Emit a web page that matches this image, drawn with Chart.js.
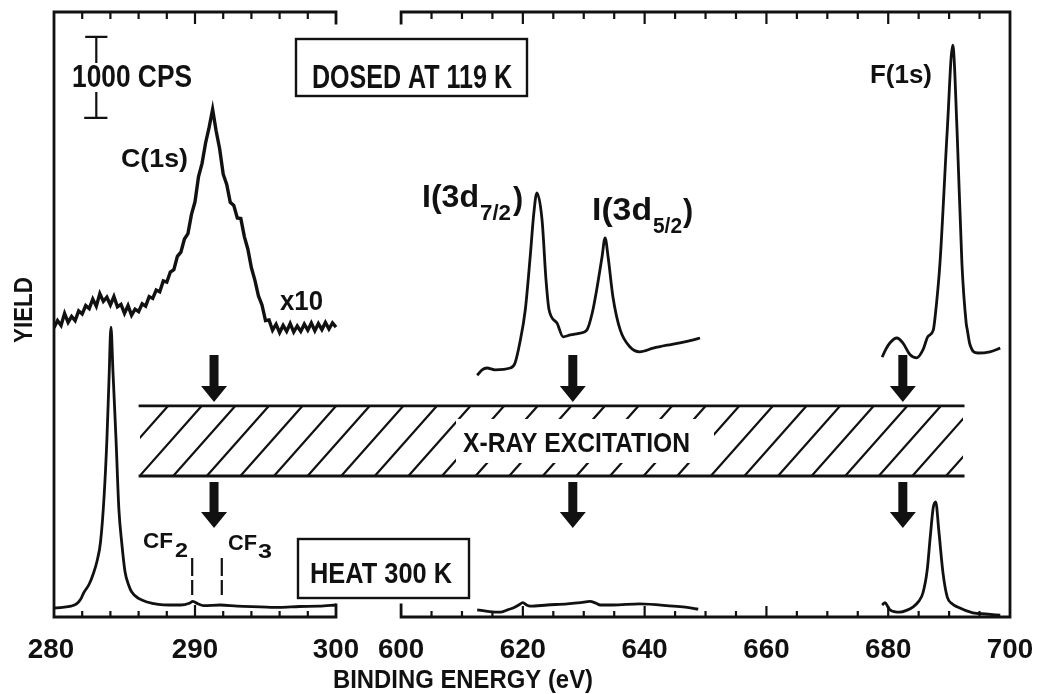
<!DOCTYPE html>
<html><head><meta charset="utf-8">
<script src="https://cdn.jsdelivr.net/npm/chart.js@4.4.1/dist/chart.umd.min.js"></script>
<style>html,body{margin:0;padding:0;background:#fff;overflow:hidden}canvas{display:block}</style>
</head><body>
<canvas id="c" width="1038" height="694" style="width:1038px;height:694px"></canvas>
<script>
// ---------- DATA (binding energy in eV, yield in arbitrary units) ----------
const cDosedEnergy = [280.00,280.25,280.50,280.75,281.00,281.25,281.50,281.75,282.00,282.25,282.50,282.75,283.00,283.25,283.50,283.75,284.00,284.25,284.50,284.75,285.00,285.25,285.50,285.75,286.00,286.25,286.50,286.75,287.00,287.25,287.50,287.75,288.00,288.25,288.50,288.75,289.00,289.25,289.50,289.75,290.00,290.25,290.50,290.75,291.00,291.25,291.50,291.75,292.00,292.25,292.50,292.75,293.00,293.25,293.50,293.75,294.00,294.25,294.50,294.75,295.00,295.25,295.50,295.75,296.00,296.25,296.50,296.75,297.00,297.25,297.50,297.75,298.00,298.25,298.50,298.75,299.00,299.25,299.50,299.75,300.00];
const cDosed = [48.2,49.4,48.6,50.6,49.1,50.1,49.4,51.0,50.5,51.9,51.4,53.0,51.8,53.9,52.6,53.3,52.0,53.4,51.7,52.1,50.6,51.9,50.3,51.3,50.9,52.2,51.8,53.4,53.1,54.5,54.2,56.0,55.8,57.5,57.9,60.1,60.8,63.0,63.9,67.1,69.2,73.4,75.6,79.0,81.6,84.6,81.0,78.0,73.8,72.1,69.1,68.6,66.5,66.4,63.4,61.3,58.2,56.1,53.5,52.0,49.4,49.5,47.8,48.8,47.4,48.6,47.6,48.9,47.5,48.5,47.6,48.8,47.8,49.0,47.7,48.9,47.9,49.1,48.0,49.0,48.3];

const cHeatEnergy = [280.0,280.6,281.2,281.6,281.9,282.1,282.5,282.8,283.05,283.3,283.55,283.75,283.9,284.04,284.18,284.4,284.6,284.82,285.04,285.3,285.5,286.0,286.6,287.4,288.2,289.0,289.6,289.85,290.2,290.6,291.8,293.0,294.6,296.0,297.4,298.8,300.0];
const cHeat = [1.5,1.6,1.8,2.2,3.0,4.0,5.5,7.3,9.3,12.5,20,29.5,39.5,48.3,41,29.5,18,12,7.5,5.3,4.2,3.1,2.5,2.1,2.0,2.0,2.3,2.6,2.2,1.9,2.0,1.8,1.7,1.6,1.75,1.8,2.0];

const iDosedEnergy = [612.5,613.3,614.1,615.4,617.9,618.7,619.5,620.4,621.2,621.8,622.3,623.15,623.8,624.3,625.6,626.6,627.8,629.4,630.5,631.4,632.2,633.0,633.5,634.0,634.8,636.0,637.6,639.2,641.4,643.7,645.8,648.0,649.1];
const iDosed = [40.3,41.2,41.5,41.2,41.5,42.3,45.7,51.2,60,67.3,70.7,66.2,56.2,51.2,49,46.7,47,47.3,47.8,50.7,55,60,63.2,60,53.3,47.8,45,44.2,44.8,45.3,45.7,46.2,46.5];

const iHeatEnergy = [612.5,614.5,616.3,617.5,618.4,619.3,620.0,620.6,621.2,624.0,627.3,629.5,631.0,632.0,632.7,634.8,639.2,644.7,647.0,648.8];
const iHeat = [1.2,0.9,0.8,1.2,1.5,2.0,2.4,2.0,1.8,2.0,2.2,2.4,2.6,2.3,2.0,2.0,2.2,1.8,1.6,1.3];

const fDosedEnergy = [679.0,679.6,680.3,681.4,682.4,683.6,684.7,685.7,686.5,687.4,687.7,688.5,689.7,690.6,691.3,692.1,692.8,693.0,693.4,694.7,696.7,698.4];
const fDosed = [43.3,44.6,45.7,46.5,45.7,43.7,43.2,44.5,46.7,47.8,50,59,81.2,95.3,81.2,59,49,47.8,45.5,44,44.2,44.8];

const fHeatEnergy = [679.0,679.5,680.0,680.3,681.9,683.0,684.1,685.0,685.7,686.4,686.9,687.4,687.8,688.3,689.0,689.7,690.5,691.3,693.9,696.0,698.4];
const fHeat = [2.0,2.4,1.6,1.2,0.8,1.1,1.7,2.6,4.0,7.8,13.3,18.3,19.2,14.5,7.3,3.3,2.2,1.7,0.7,0.5,0.3];

const leftTickLabels = [280,290,300];
const leftMinorTicks = [282,284,286,288,292,294,296,298];
const rightTickLabels = [600,620,640,660,680,700];
const rightMinorTicks = [605,610,615,625,630,635,645,650,655,665,670,675,685,690,695];

// annotation anchors (data units)
const arrowsLeft = [291.35];
const arrowsRight = [628.2, 682.4];

// ---------- helpers ----------
const INK = '#111';
function txt(ctx, s, x, yBase, capH, width, align, rot) {
  const size = capH / 0.72;
  ctx.save();
  ctx.font = 'bold ' + size + 'px "Liberation Sans", Arial, sans-serif';
  const nat = ctx.measureText(s).width;
  const sx = width ? width / nat : 1;
  ctx.translate(x, yBase);
  if (rot) ctx.rotate(rot);
  ctx.scale(sx, 1);
  ctx.textBaseline = 'alphabetic';
  ctx.textAlign = align || 'left';
  ctx.fillStyle = INK;
  ctx.fillText(s, 0, 0);
  ctx.restore();
}
function arrow(ctx, x, yTop, yTip) {
  const hw = 4.5, hh = 13, hl = 16;
  ctx.beginPath();
  ctx.moveTo(x - hw, yTop); ctx.lineTo(x + hw, yTop);
  ctx.lineTo(x + hw, yTip - hl); ctx.lineTo(x + hh, yTip - hl);
  ctx.lineTo(x, yTip); ctx.lineTo(x - hh, yTip - hl);
  ctx.lineTo(x - hw, yTip - hl); ctx.closePath(); ctx.fill();
}

const decor = {
  id: 'decor',
  afterDatasetsDraw(chart) {
    const ctx = chart.ctx;
    const L = chart.scales.xL, R = chart.scales.xR, Y = chart.scales.y;
    const top = Y.top, bot = Y.bottom;
    const xa = L.getPixelForValue(280), xb = L.getPixelForValue(300);
    const xc = R.getPixelForValue(600), xd = R.getPixelForValue(700);
    ctx.save();
    ctx.strokeStyle = INK; ctx.fillStyle = INK; ctx.lineCap = 'square';
    // frames
    ctx.lineWidth = 2.8;
    ctx.beginPath();
    ctx.moveTo(xb, top + 11); ctx.lineTo(xb, top); ctx.lineTo(xa, top); ctx.lineTo(xa, bot);
    ctx.lineTo(xb, bot); ctx.lineTo(xb, bot - 12);
    ctx.moveTo(xc, top + 11); ctx.lineTo(xc, top); ctx.lineTo(xd, top); ctx.lineTo(xd, bot);
    ctx.lineTo(xc, bot); ctx.lineTo(xc, bot - 12);
    ctx.stroke();
    // ticks
    ctx.lineWidth = 2.2;
    ctx.beginPath();
    leftMinorTicks.forEach(v => { const p = L.getPixelForValue(v); ctx.moveTo(p, bot); ctx.lineTo(p, bot - 5); ctx.moveTo(p, top); ctx.lineTo(p, top + 6); });
    rightMinorTicks.forEach(v => { const p = R.getPixelForValue(v); ctx.moveTo(p, bot); ctx.lineTo(p, bot - 5); ctx.moveTo(p, top); ctx.lineTo(p, top + 6); });
    [290].forEach(v => { const p = L.getPixelForValue(v); ctx.moveTo(p, bot); ctx.lineTo(p, bot - 11); ctx.moveTo(p, top); ctx.lineTo(p, top + 11); });
    [620,640,660,680].forEach(v => { const p = R.getPixelForValue(v); ctx.moveTo(p, bot); ctx.lineTo(p, bot - 10); ctx.moveTo(p, top); ctx.lineTo(p, top + 11); });
    ctx.stroke();
    // tick labels
    leftTickLabels.forEach(v => txt(ctx, String(v), L.getPixelForValue(v) - (v === 280 ? 3 : 0), 658, 20, null, 'center'));
    rightTickLabels.forEach(v => txt(ctx, String(v), R.getPixelForValue(v), 658, 20, null, 'center'));
    txt(ctx, 'BINDING ENERGY (eV)', 333, 688, 19, 260);
    txt(ctx, 'YIELD', 32, 343, 19, 66, 'left', -Math.PI / 2);

    // scale bar (1000 CPS)
    const sbx = L.getPixelForValue(283.0);
    ctx.lineWidth = 2.2;
    ctx.beginPath();
    const yA = Y.getPixelForValue(96.67), yB = Y.getPixelForValue(92.5), yC = Y.getPixelForValue(87.33), yD = Y.getPixelForValue(83.17);
    ctx.moveTo(sbx - 10, yA); ctx.lineTo(sbx + 10, yA);
    ctx.moveTo(sbx, yA); ctx.lineTo(sbx, yB);
    ctx.moveTo(sbx, yC); ctx.lineTo(sbx, yD);
    ctx.moveTo(sbx - 11, yD); ctx.lineTo(sbx + 10, yD);
    ctx.stroke();
    txt(ctx, '1000 CPS', 72, 87, 22, 120);

    // boxes
    ctx.lineWidth = 2.4;
    ctx.strokeRect(296, 39, 231, 57);
    txt(ctx, 'DOSED AT 119 K', 312, 88, 24, 200);
    ctx.strokeRect(298, 539, 171, 59);
    txt(ctx, 'HEAT 300 K', 310, 583, 21, 142);

    // peak labels
    txt(ctx, 'C(1s)', 121, 167, 18, 67);
    txt(ctx, 'x10', 280, 310, 20, 43);
    txt(ctx, 'F(1s)', 870, 83, 19, 62);
    txt(ctx, 'I(3d', 422, 207, 22, 57);
    txt(ctx, '7/2', 480, 220, 16, 31);
    txt(ctx, ')', 513, 209, 22, null);
    txt(ctx, 'I(3d', 592, 220, 22, 60);
    txt(ctx, '5/2', 653, 233, 16, 29);
    txt(ctx, ')', 683, 221, 22, null);
    txt(ctx, 'CF', 143, 548, 16, 30);
    txt(ctx, '2', 175, 557, 15, 13);
    txt(ctx, 'CF', 228, 550, 16, 29);
    txt(ctx, '3', 258, 558, 15, 14);

    // CF2 / CF3 dashed markers
    ctx.lineWidth = 2.2;
    ctx.setLineDash([18, 4]);
    ctx.lineCap = 'butt';
    ctx.beginPath();
    [289.8, 291.9].forEach(v => { const p = L.getPixelForValue(v); ctx.moveTo(p, Y.getPixelForValue(9.83)); ctx.lineTo(p, Y.getPixelForValue(3.67)); });
    ctx.stroke();
    ctx.setLineDash([]);
    ctx.lineCap = 'square';

    // X-ray band
    const bx0 = L.getPixelForValue(286.1), bx1 = R.getPixelForValue(692.3);
    const byT = Y.getPixelForValue(35.17), byB = Y.getPixelForValue(23.5);
    ctx.save();
    ctx.beginPath(); ctx.rect(bx0, byT, bx1 - bx0, byB - byT); ctx.clip();
    ctx.lineWidth = 2.2;
    ctx.beginPath();
    for (let tx = 168 - 33.6 * 2; tx < bx1 + 80; tx += 33.6) {
      ctx.moveTo(tx - 62, byB); ctx.lineTo(tx, byT);
    }
    ctx.stroke();
    ctx.restore();
    ctx.fillStyle = '#fff';
    ctx.fillRect(456, byT + 13, 258, (byB - byT) - 26);
    ctx.fillStyle = INK;
    ctx.lineWidth = 2.8;
    ctx.beginPath();
    ctx.moveTo(bx0, byT); ctx.lineTo(bx1, byT);
    ctx.moveTo(bx0, byB); ctx.lineTo(bx1, byB);
    ctx.stroke();
    txt(ctx, 'X-RAY EXCITATION', 463, 452, 20, 227);

    // arrows
    const aT1 = Y.getPixelForValue(43.67), aP1 = Y.getPixelForValue(35.83);
    const aT2 = Y.getPixelForValue(22.5), aP2 = Y.getPixelForValue(14.83);
    arrowsLeft.forEach(v => { const p = L.getPixelForValue(v); arrow(ctx, p, aT1, aP1); arrow(ctx, p, aT2, aP2); });
    arrowsRight.forEach(v => { const p = R.getPixelForValue(v); arrow(ctx, p, aT1, aP1); arrow(ctx, p, aT2, aP2); });
    ctx.restore();
  }
};

function ds(xs, ys, axis, extra) {
  return Object.assign({
    data: xs.map((x, i) => ({ x: x, y: ys[i] })),
    xAxisID: axis, yAxisID: 'y',
    borderColor: INK, borderWidth: 2.8, pointRadius: 0, fill: false,
    cubicInterpolationMode: 'monotone'
  }, extra || {});
}

new Chart(document.getElementById('c'), {
  type: 'line',
  data: {
    datasets: [
      ds(cDosedEnergy, cDosed, 'xL', { cubicInterpolationMode: 'default', tension: 0, borderWidth: 3.4 }),
      ds(cHeatEnergy, cHeat, 'xL'),
      ds(iDosedEnergy, iDosed, 'xR'),
      ds(iHeatEnergy, iHeat, 'xR'),
      ds(fDosedEnergy, fDosed, 'xR'),
      ds(fHeatEnergy, fHeat, 'xR')
    ]
  },
  options: {
    responsive: false,
    animation: false,
    devicePixelRatio: 1,
    layout: { padding: { left: 54, right: 28, top: 12, bottom: 77 } },
    plugins: { legend: { display: false }, tooltip: { enabled: false } },
    scales: {
      xL: { type: 'linear', min: 280, max: 347.8, display: false },
      xR: { type: 'linear', min: 543.0, max: 700, display: false },
      y: { type: 'linear', min: 0, max: 100.83, display: false }
    }
  },
  plugins: [decor]
});
</script>
</body></html>
